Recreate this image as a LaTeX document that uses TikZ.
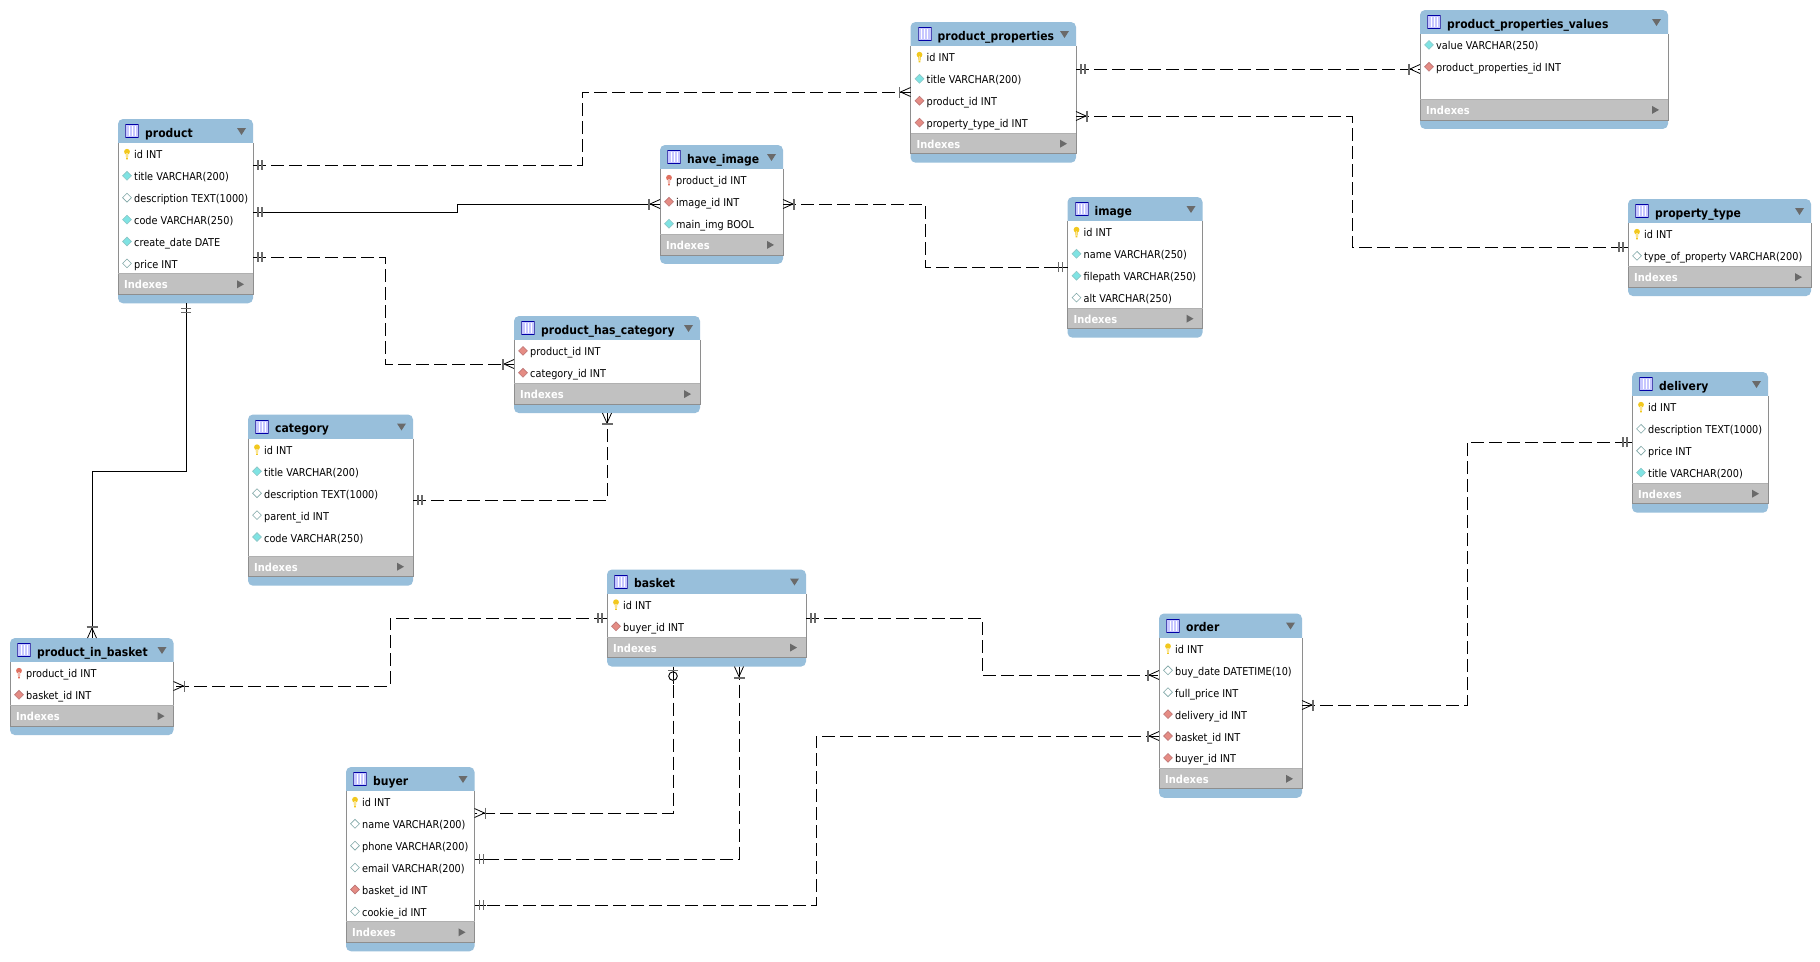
\documentclass[tikz,border=0pt]{standalone}
\usepackage{fontspec}
\setmainfont[FakeStretch=0.9]{DejaVu Sans}
\usepackage{xcolor}
\usetikzlibrary{calc}

\definecolor{hdrblue}{HTML}{98BFDB}
\definecolor{idxgray}{HTML}{C1C1C1}
\definecolor{edgegray}{HTML}{8E8E8E}
\definecolor{markgray}{HTML}{6A6A6A}
\definecolor{keyyellow}{HTML}{F2C81E}
\definecolor{keyred}{HTML}{E0705F}
\definecolor{dmdcyan}{HTML}{7FE3E3}
\definecolor{dmdred}{HTML}{E58C84}

% Row icons, drawn around the centre of their row
\newcommand{\iconkey}[2]{%
    \fill[#1] (-1.3,-2) -- (1.3,-2) -- (0.8,4.5) -- (-0.8,4.5) -- cycle;
    \fill[#1] (0,-3.2) ellipse (2.9 and 2.9);
    \fill[#2] (-0.6,-1.8) rectangle (0.6,3.5);
}
\newcommand{\iconpk}{\iconkey{keyyellow}{keyyellow!50!white}}
\newcommand{\iconfpk}{\iconkey{keyred}{keyred!50!white}}
\newcommand{\icondmd}[2]{%
    \filldraw[fill=#1, draw=#2, line width=0.6] (-4.4,-1) -- (0,-5.4) -- (4.4,-1) -- (0,3.4) -- cycle;
}
\newcommand{\iconnn}{\icondmd{dmdcyan}{teal!45!white}}
\newcommand{\iconnul}{\icondmd{white}{teal!45!gray!70!white}}
\newcommand{\iconfk}{\icondmd{dmdred}{red!35!gray!80!white}}

\tikzset{
    pics/dbicon/.style={code={\csname icon#1\endcsname}},
    % Small table symbol in the title bar
    pics/dbgrid/.style={code={
        \fill[blue!22!white] (0,0) rectangle (14,14);
        \draw[blue!65!black, line width=0.9] (0,0.5) -- (14,0.5) (0,13.5) -- (14,13.5);
        \draw[blue!40!gray, line width=0.7] (0.4,0) -- (0.4,14) (13.6,0) -- (13.6,14);
        \foreach \gx in {4,7,10} {
            \draw[white, line width=0.7] (\gx,2) -- (\gx,12);
        }
    }},
    % Connector ends, all pointing along +x away from the table edge
    pics/oneone/.style={code={
        \draw[solid, black, line width=0.9] (0,0) -- (11,0);
        \draw[solid, markgray, line width=1.1] (5,-5) -- (5,5) (9,-5) -- (9,5);
    }},
    pics/onemany/.style={code={
        \draw[solid, black, line width=0.8] (0,-4.5) -- (10,0) -- (0,4.5);
        \draw[solid, black, line width=0.9] (10,0) -- (12,0);
        \draw[solid, markgray, line width=1.8] (11,-5.5) -- (11,5.5);
    }},
    pics/zeroone/.style={code={
        \draw[solid, black, line width=0.9] (0,0) -- (5,0) (14,0) -- (17,0);
        \draw[solid, markgray, line width=1.2] (4,-5) -- (4,5);
        \draw[solid, black, line width=0.9] (9.5,0) circle (4.3);
    }},
}

% name, x, y, width, rows of space, title, rows
\newcommand{\dbtable}[7]{%
    \pgfmathsetmacro{\bodyh}{21.8*#5}
    \pgfmathsetmacro{\tblh}{24+\bodyh+20.5+9}
    \node[tablebox, minimum width=#4pt, minimum height=\tblh pt] (#1) at (#2,#3) {};
    \fill[white] (#1.north west) ++(0,24) rectangle ++(#4,\bodyh);
    \fill[idxgray] (#1.north west) ++(0,24+\bodyh) rectangle ++(#4,20.5);
    \draw[edgegray, line width=0.8] (#1.north west) ++(0,24) -- ++(0,\bodyh+20.5) -- ++(#4,0) -- ++(0,-\bodyh-20.5);
    \draw[edgegray!70!white, line width=0.8] (#1.north west) ++(0,24+\bodyh) -- ++(#4,0);
    \pic at ([shift={(7,5)}]#1.north west) {dbgrid};
    \node[tabletitle] (#1-title) at ([shift={(27,18)}]#1.north west) {#6};
    \fill[markgray] (#1.north east) ++(-16,9) -- ++(9,0) -- ++(-4.5,7) -- cycle;
    \foreach \kind/\txt [count=\r] in {#7} {
        \node[rowtext] (#1-row\r) at ([shift={(16,24+21.9*\r-6)}]#1.north west) {\txt};
        \pic at ([shift={(9,24+21.9*\r-10)}]#1.north west) {dbicon=\kind};
    }
    \node[idxtext] (#1-idx) at ([shift={(6,24+\bodyh+15)}]#1.north west) {Indexes};
    \fill[markgray] (#1.north east) ++(-16,24+\bodyh+6.5) -- ++(7,4) -- ++(-7,4) -- cycle;
}

\begin{document}
\begin{tikzpicture}[
    x=1pt, y=-1pt,
    tablebox/.style={rectangle, anchor=north west, inner sep=0pt, outer sep=0pt, rounded corners=5pt, fill=hdrblue},
    tabletitle/.style={anchor=base west, inner sep=0pt, font=\fontsize{12}{14}\selectfont\bfseries},
    rowtext/.style={anchor=base west, inner sep=0pt, font=\fontsize{10.8}{13}\selectfont},
    idxtext/.style={anchor=base west, inner sep=0pt, text=white, font=\fontsize{11}{13}\selectfont\bfseries},
    rel/.style={black, line width=0.9, dash pattern=on 13pt off 5pt},
    relsolid/.style={black, line width=0.9},
]
\useasboundingbox[fill=white] (0,0) rectangle (1820,961);

% Tables
\dbtable{product}{118}{119}{135}{6}{product}{pk/id INT, nn/title VARCHAR(200), nul/description TEXT(1000), nn/code VARCHAR(250), nn/create\_date DATE, nul/price INT}
\dbtable{have_image}{660}{145}{123}{3}{have\_image}{fpk/product\_id INT, fk/image\_id INT, nn/main\_img BOOL}
\dbtable{product_properties}{910.5}{22}{165.5}{4}{product\_properties}{pk/id INT, nn/title VARCHAR(200), fk/product\_id INT, fk/property\_type\_id INT}
\dbtable{product_properties_values}{1420}{10}{248}{3}{product\_properties\_values}{nn/value VARCHAR(250), fk/product\_properties\_id INT}
\dbtable{image}{1067.5}{197}{135}{4}{image}{pk/id INT, nn/name VARCHAR(250), nn/filepath VARCHAR(250), nul/alt VARCHAR(250)}
\dbtable{property_type}{1628}{199}{183}{2}{property\_type}{pk/id INT, nul/type\_of\_property VARCHAR(200)}
\dbtable{product_has_category}{514}{316}{186}{2}{product\_has\_category}{fk/product\_id INT, fk/category\_id INT}
\dbtable{category}{248}{414.5}{165}{5.4}{category}{pk/id INT, nn/title VARCHAR(200), nul/description TEXT(1000), nul/parent\_id INT, nn/code VARCHAR(250)}
\dbtable{delivery}{1632}{372}{136}{4}{delivery}{pk/id INT, nul/description TEXT(1000), nul/price INT, nn/title VARCHAR(200)}
\dbtable{basket}{607}{569.5}{199}{2}{basket}{pk/id INT, fk/buyer\_id INT}
\dbtable{product_in_basket}{10}{638}{163.5}{2}{product\_in\_basket}{fpk/product\_id INT, fk/basket\_id INT}
\dbtable{order}{1159}{613.5}{143}{6}{order}{pk/id INT, nul/buy\_date DATETIME(10), nul/full\_price INT, fk/delivery\_id INT, fk/basket\_id INT, fk/buyer\_id INT}
\dbtable{buyer}{346}{767}{128.5}{6}{buyer}{pk/id INT, nul/name VARCHAR(200), nul/phone VARCHAR(200), nul/email VARCHAR(200), fk/basket\_id INT, nul/cookie\_id INT}

% Relations of the upper half
\draw[rel] (product.east |- 0,165) pic {oneone} -| (582,92) -- (product_properties.west |- 0,92) pic[rotate=180] {onemany};
\draw[relsolid] (product.east |- 0,212) pic {oneone} -| (457,204) -- (have_image.west |- 0,204) pic[rotate=180] {onemany};
\draw[rel] (product.east |- 0,257) pic {oneone} -| (385,364) -- (product_has_category.west |- 0,364) pic[rotate=180] {onemany};
\draw[rel] (have_image.east |- 0,204) pic {onemany} -| (925,267) -- (image.west |- 0,267) pic[rotate=180] {oneone};
\draw[rel] (category.east |- 0,500) pic {oneone} -| (product_has_category.south -| 607,0) pic[rotate=-90] {onemany};
\draw[rel] (product_properties.east |- 0,69) pic {oneone} -- (product_properties_values.west |- 0,69) pic[rotate=180] {onemany};
\draw[rel] (product_properties.east |- 0,116) pic {onemany} -| (1352,247) -- (property_type.west |- 0,247) pic[rotate=180] {oneone};
\draw[relsolid] (product.south -| 186,0) pic[rotate=-90] {oneone} |- (92,471) -- (product_in_basket.north -| 92,0) pic[rotate=90] {onemany};

% Relations of the lower half
\draw[rel] (basket.west |- 0,618) pic[rotate=180] {oneone} -| (390,686) -- (product_in_basket.east |- 0,686) pic {onemany};
\draw[rel] (basket.east |- 0,618) pic {oneone} -| (982,675) -- (order.west |- 0,675) pic[rotate=180] {onemany};
\draw[rel] (order.east |- 0,705) pic {onemany} -| (1467,442) -- (delivery.west |- 0,442) pic[rotate=180] {oneone};
\draw[rel] (basket.south -| 673,0) pic[rotate=-90] {zeroone} |- (buyer.east |- 0,813) pic {onemany};
\draw[rel] (basket.south -| 739,0) pic[rotate=-90] {onemany} |- (buyer.east |- 0,859) pic {oneone};
\draw[rel] (order.west |- 0,736) pic[rotate=180] {onemany} -| (816,905) -- (buyer.east |- 0,905) pic {oneone};

\end{tikzpicture}
\end{document}
